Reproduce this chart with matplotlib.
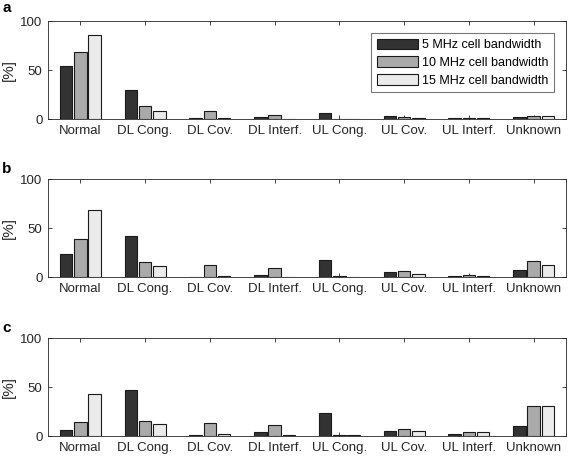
import matplotlib
matplotlib.use("Agg")
import matplotlib.pyplot as plt
import numpy as np

plt.rcParams["font.family"] = ["Liberation Sans", "DejaVu Sans"]

categories = ["Normal", "DL Cong.", "DL Cov.", "DL Interf.",
              "UL Cong.", "UL Cov.", "UL Interf.", "Unknown"]
series_names = ["5 MHz cell bandwidth", "10 MHz cell bandwidth",
                "15 MHz cell bandwidth"]

# panel a
a_5 = [54, 29.5, 1, 2, 6, 3, 1, 2]
a_10 = [68.5, 13, 8, 4, 0.3, 2, 1, 3]
a_15 = [86, 8, 1, 0.5, 0.3, 1, 1, 3]
# panel b
b_5 = [23, 41.5, 0.5, 2.5, 17, 4.8, 1.5, 6.8]
b_10 = [38.8, 15, 12, 8.8, 1, 5.8, 2.5, 16]
b_15 = [68.4, 11, 1.5, 0.5, 0.5, 2.7, 1.5, 12]
# panel c
c_5 = [5.8, 46.6, 0.8, 4, 23.8, 5.4, 2, 10.5]
c_10 = [14.6, 15.6, 13.6, 10.9, 1, 7.5, 4, 31]
c_15 = [43.2, 12.6, 2, 1, 1, 5, 4, 31]

panels = [("a", [a_5, a_10, a_15]),
          ("b", [b_5, b_10, b_15]),
          ("c", [c_5, c_10, c_15])]

colors = ["#333333", "#aaaaaa", "#ebebeb"]
axis_col = "#262626"

fig = plt.figure(figsize=(5.68, 4.59), dpi=100)
bottoms = [0.7407, 0.3965, 0.050]
letter_tops = [0.997, 0.648, 0.300]
height = 0.2135
x = np.arange(1, len(categories) + 1)
offsets = [-0.22, 0.0, 0.22]

for (letter, vals), b, lt in zip(panels, bottoms, letter_tops):
    ax = fig.add_axes([0.0845, b, 0.912, height])
    for k in range(3):
        ax.bar(x + offsets[k], vals[k], width=0.19, color=colors[k],
               edgecolor="#1a1a1a", linewidth=0.8, label=series_names[k],
               zorder=2)
    ax.set_xlim(0.5, 8.5)
    ax.set_ylim(0, 100)
    ax.set_yticks([0, 50, 100])
    ax.set_xticks(x)
    ax.set_xticklabels(categories)
    ax.tick_params(direction="in", top=True, right=True, length=3,
                   width=0.6, color=axis_col, labelcolor=axis_col,
                   labelsize=9.5, pad=4)
    for s in ax.spines.values():
        s.set_color(axis_col)
        s.set_linewidth(0.6)
        s.set_zorder(3)
    ax.set_ylabel("[%]", fontsize=11, color=axis_col)
    ax.yaxis.set_label_coords(-0.062, 0.5)
    fig.text(0.004, lt, letter, fontsize=11, fontweight="bold",
             va="top", ha="left")
    if letter == "a":
        leg = ax.legend(loc="upper right", bbox_to_anchor=(0.977, 0.878),
                        fontsize=9, frameon=True, fancybox=False,
                        handlelength=3.3, handleheight=0.95,
                        handletextpad=0.3, borderpad=0.45,
                        labelspacing=0.4, borderaxespad=0)
        leg.get_frame().set_edgecolor("#555555")
        leg.get_frame().set_linewidth(0.8)

fig.savefig("out.png", dpi=100)
